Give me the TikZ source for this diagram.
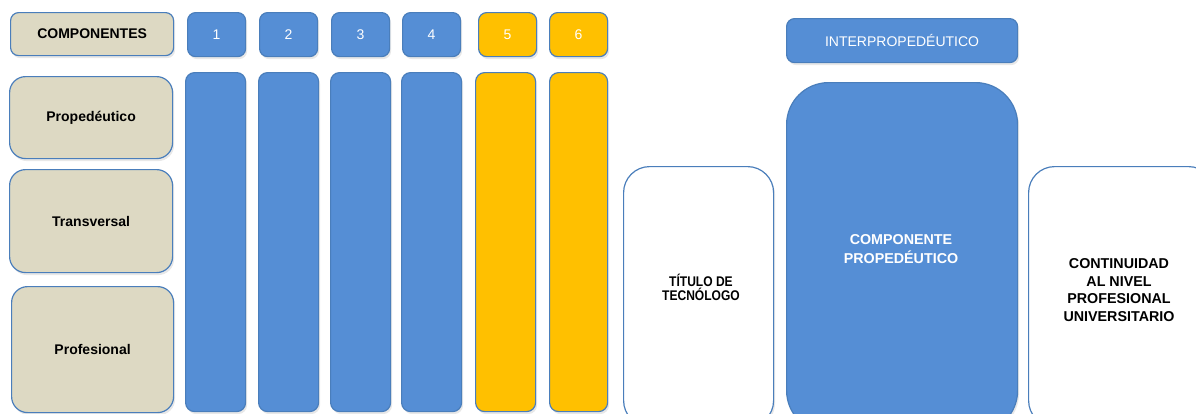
\documentclass[tikz,border=0pt]{standalone}
\usepackage{fontspec}
\setmainfont{Liberation Sans}
\usetikzlibrary{shadows,positioning}
\definecolor{bfill}{HTML}{558ED5}
\definecolor{bline}{HTML}{4A7EBB}
\definecolor{gold}{HTML}{FFC000}
\definecolor{beige}{HTML}{DDD9C3}
\tikzset{
  base/.style={draw=bline, line width=1.2pt, inner sep=0pt, anchor=north west,
    drop shadow={opacity=0.18, shadow xshift=1.5pt, shadow yshift=-2.5pt}},
  bluebox/.style={base, fill=bfill, text=white, font=\fontsize{14}{19}\selectfont},
  goldbox/.style={base, fill=gold, text=white, font=\fontsize{14}{19}\selectfont},
  beigebox/.style={base, fill=beige, font=\fontsize{14}{19}\selectfont\bfseries},
  whitebox/.style={base, fill=white},
  lbl/.style={align=center, font=\fontsize{14.3}{17.8}\selectfont\bfseries, inner sep=0pt},
}
\begin{document}
\begin{tikzpicture}[x=1pt,y=-1pt]
\useasboundingbox (0,0) rectangle (1196,413);
\clip (0,0) rectangle (1196,413);
% header row
\node[beigebox, rounded corners=8pt, minimum width=163pt, minimum height=43pt] (comp) at (10,12) {COMPONENTES};
\node[bluebox, rounded corners=8pt, minimum width=58pt, minimum height=44pt] (h1) at (187,12) {1};
\node[bluebox, rounded corners=8pt, minimum width=58pt, minimum height=44pt] (h2) at (259,12) {2};
\node[bluebox, rounded corners=8pt, minimum width=58pt, minimum height=44pt] (h3) at (331,12) {3};
\node[bluebox, rounded corners=8pt, minimum width=58pt, minimum height=44pt] (h4) at (402,12) {4};
\node[goldbox, rounded corners=8pt, minimum width=58pt, minimum height=44pt] (h5) at (478,12) {5};
\node[goldbox, rounded corners=8pt, minimum width=58pt, minimum height=44pt] (h6) at (549,12) {6};
% tall columns
\node[bluebox, rounded corners=9pt, minimum width=60pt, minimum height=339pt] (c1) at (185,72) {};
\node[bluebox, rounded corners=9pt, minimum width=60pt, minimum height=339pt] (c2) at (258,72) {};
\node[bluebox, rounded corners=9pt, minimum width=60pt, minimum height=339pt] (c3) at (330,72) {};
\node[bluebox, rounded corners=9pt, minimum width=60pt, minimum height=339pt] (c4) at (401,72) {};
\node[goldbox, rounded corners=9pt, minimum width=60pt, minimum height=339pt] (c5) at (475,72) {};
\node[goldbox, rounded corners=9pt, minimum width=58pt, minimum height=339pt] (c6) at (549,72) {};
% left labels
\node[beigebox, rounded corners=16pt, minimum width=163pt, minimum height=82pt] (prop) at (9,76) {Propedéutico};
\node[beigebox, rounded corners=16pt, minimum width=163pt, minimum height=103pt] (trans) at (9,169) {Transversal};
\node[beigebox, rounded corners=16pt, minimum width=162pt, minimum height=126pt] (prof) at (11,286) {Profesional};
% right part
\node[bluebox, rounded corners=8pt, minimum width=231pt, minimum height=44pt] (inter) at (786,18) {INTERPROPEDÉUTICO};
\node[whitebox, rounded corners=26pt, minimum width=150pt, minimum height=260pt] (titbox) at (623,166) {};
\node[bluebox, rounded corners=42pt, minimum width=231pt, minimum height=350pt] (cpbox) at (786,82) {};
\node[whitebox, rounded corners=26pt, minimum width=186pt, minimum height=260pt] (contbox) at (1028,166) {};
\node[lbl, font=\fontsize{14}{15.5}\selectfont\bfseries] (tit) at (701,290) {\scalebox{0.86}[1]{\begin{tabular}{@{}c@{}}TÍTULO DE\\[-3pt]TECNÓLOGO\end{tabular}}};
\node[lbl, text=white, font=\fontsize{14.3}{18.5}\selectfont\bfseries] (cp) at (901,249) {COMPONENTE\\PROPEDÉUTICO};
\node[lbl] (cont) at (1119,290) {CONTINUIDAD\\AL NIVEL\\PROFESIONAL\\UNIVERSITARIO};
\end{tikzpicture}
\end{document}
